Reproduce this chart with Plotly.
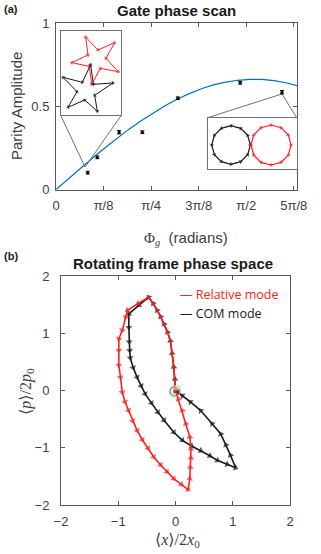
import plotly.graph_objects as go

W, H = 321, 554

# ---------------- data: panel (a) ----------------
phase_x = [0.262, 0.341, 0.521, 0.713, 1.006, 1.521, 1.866]
parity = [0.101, 0.193, 0.344, 0.344, 0.548, 0.641, 0.584]
parity_err = [0.008, 0.008, 0.010, 0.008, 0.008, 0.008, 0.010]

fit_x = [0, 0.1, 0.2, 0.3, 0.4, 0.5, 0.6, 0.7, 0.8, 0.9, 1.0, 1.1, 1.2, 1.3, 1.4,
         1.5, 1.6, 1.7, 1.8, 1.9, 1.99]
fit_y = [0, 0.064, 0.126, 0.188, 0.248, 0.306, 0.361, 0.412, 0.460, 0.503, 0.542,
         0.576, 0.605, 0.628, 0.645, 0.656, 0.662, 0.661, 0.654, 0.641, 0.624]

tick_vals_a = [0, 0.3927, 0.7854, 1.1781, 1.5708, 1.9635]
tick_text_a = ["0", "π/8", "π/4", "3π/8", "π/2", "5π/8"]

zoom_anchor_left = (0.24, 0.135)

# inset 1 (stars), inset coordinates
red_star_x = [83, 120, 170, 144, 181, 127, 101, 94, 41, 90, 83]
red_star_y = [27, 66, 44, 91, 131, 121, 169, 115, 104, 81, 27]
blk_star_x = [15, 73, 98, 106, 165, 110, 118, 80, 30, 57, 15]
blk_star_y = [148, 163, 110, 169, 165, 202, 250, 216, 238, 191, 148]

# inset 2 (circles)
blk_circ_x = [136, 128, 107, 78, 49, 28, 20, 28, 49, 78, 107, 128, 136]
blk_circ_y = [90, 61, 40, 32, 40, 61, 90, 119, 140, 148, 140, 119, 90]
red_circ_x = [138, 146, 168, 198, 228, 250, 258, 250, 228, 198, 168, 146, 138]
red_circ_y = [90, 60, 38, 30, 38, 60, 90, 120, 142, 150, 142, 120, 90]

# ---------------- data: panel (b) ----------------
rel_x = [0, -0.01, -0.03, -0.06, -0.09, -0.14, -0.20, -0.26, -0.32, -0.39, -0.47,
         -0.65, -0.84, -0.87, -0.93, -0.99, -0.99, -0.99, -0.96, -0.93, -0.88, -0.82,
         -0.75, -0.67, -0.58, -0.48, -0.38, -0.26, -0.15, -0.03, 0.10, 0.22, 0.25,
         0.26, 0.27, 0.27, 0.25, 0.18, 0.12, 0.05, 0.0]
rel_y = [0, 0.20, 0.41, 0.65, 0.87, 1.02, 1.16, 1.29, 1.40, 1.52, 1.63,
         1.52, 1.40, 1.28, 1.05, 0.90, 0.70, 0.44, 0.23, -0.03, -0.20, -0.35,
         -0.53, -0.70, -0.86, -1.01, -1.16, -1.30, -1.42, -1.54, -1.64, -1.73, -1.54,
         -1.34, -1.18, -1.02, -0.81, -0.58, -0.35, -0.15, 0.0]

com_x = [0, -0.01, -0.03, -0.06, -0.09, -0.14, -0.20, -0.26, -0.32, -0.39, -0.47,
         -0.64, -0.815, -0.815, -0.81, -0.80, -0.79, -0.74, -0.67, -0.60, -0.53, -0.42,
         -0.31, -0.20, -0.03, 0.12, 0.28, 0.44, 0.60, 0.73, 0.90, 1.05, 0.96, 0.88,
         0.79, 0.64, 0.44, 0.26, 0.12, 0.03, 0.0]
com_y = [0, 0.20, 0.41, 0.65, 0.87, 1.02, 1.16, 1.29, 1.40, 1.52, 1.63,
         1.49, 1.34, 1.10, 0.85, 0.70, 0.57, 0.40, 0.23, 0.08, -0.06, -0.22,
         -0.38, -0.52, -0.73, -0.87, -0.97, -1.05, -1.14, -1.22, -1.29, -1.35, -1.13, -0.95,
         -0.76, -0.58, -0.35, -0.20, -0.09, -0.03, 0.0]
shared_points = 11  # first points common to both modes

ticks_b = [-2, -1, 0, 1, 2]

# ---------------- layout geometry ----------------
def px_x(p):
    return p / W

def px_y(p):
    return 1 - p / H

XA_DOM = [px_x(56), px_x(297)]
YA_DOM = [px_y(189.5), px_y(23)]
XA_RANGE = [0, 1.99]
YA_RANGE = [0, 1]
XB_DOM = [px_x(61), px_x(290)]
YB_DOM = [px_y(505), px_y(276)]
X3_DOM = [px_x(60.7), px_x(121.3)]
Y3_DOM = [px_y(115.3), px_y(30.7)]
X4_DOM = [px_x(207.7), px_x(296.7)]
Y4_DOM = [px_y(169), px_y(117.7)]

def paper_to_xa(f):
    return XA_RANGE[0] + (f - XA_DOM[0]) / (XA_DOM[1] - XA_DOM[0]) * (XA_RANGE[1] - XA_RANGE[0])

def paper_to_ya(f):
    return YA_RANGE[0] + (f - YA_DOM[0]) / (YA_DOM[1] - YA_DOM[0]) * (YA_RANGE[1] - YA_RANGE[0])

AXCOL = "#5a5a5a"
TICKFONT = dict(family="Liberation Sans, Arial, sans-serif", size=13, color="#404040")
GRAY = "#707070"
RED = "#ff2020"
BLK = "#1a1a1a"

fig = go.Figure()

# fit curve
fig.add_trace(go.Scatter(x=fit_x, y=fit_y, mode="lines",
                         line=dict(color="#0072BD", width=1.2),
                         xaxis="x", yaxis="y", showlegend=False, hoverinfo="skip"))
# zoom connector lines
ax_l, ay_l = zoom_anchor_left
ax_r, ay_r = phase_x[6], parity[6] - parity_err[6]
conn_x = [paper_to_xa(X3_DOM[0]), ax_l, paper_to_xa(X3_DOM[1]), None,
          paper_to_xa(X4_DOM[0]), ax_r, paper_to_xa(X4_DOM[1])]
conn_y = [paper_to_ya(Y3_DOM[0]), ay_l, paper_to_ya(Y3_DOM[0]), None,
          paper_to_ya(Y4_DOM[1]), ay_r, paper_to_ya(Y4_DOM[1])]
fig.add_trace(go.Scatter(x=conn_x, y=conn_y, mode="lines",
                         line=dict(color=GRAY, width=1),
                         xaxis="x", yaxis="y", showlegend=False, hoverinfo="skip"))
# data
fig.add_trace(go.Scatter(x=phase_x, y=parity, mode="markers",
                         marker=dict(color="black", size=3),
                         error_y=dict(type="data", array=parity_err, color="black",
                                      thickness=1, width=2),
                         xaxis="x", yaxis="y", showlegend=False))

def arrow_sizes(n, s, skip=1):
    return [0] * skip + [s] * (n - skip)

def path_trace(xs, ys, col, size, lw, xa, ya, name=None, skip=1):
    return go.Scatter(x=xs, y=ys, mode="lines+markers", name=name,
                      line=dict(color=col, width=lw),
                      marker=dict(symbol="triangle-up", size=arrow_sizes(len(xs), size, skip),
                                  angleref="previous", color=col,
                                  line=dict(width=0, color=col)),
                      xaxis=xa, yaxis=ya, showlegend=False, hoverinfo="skip")

# inset 1: stars
fig.add_trace(path_trace(red_star_x, red_star_y, RED, 4, 1, "x3", "y3"))
fig.add_trace(path_trace(blk_star_x, blk_star_y, BLK, 4, 1, "x3", "y3"))
# inset 2: circles
fig.add_trace(path_trace(blk_circ_x, blk_circ_y, BLK, 4, 1.2, "x4", "y4"))
fig.add_trace(path_trace(red_circ_x, red_circ_y, RED, 4, 1.2, "x4", "y4"))

# panel (b)
fig.add_trace(path_trace(com_x, com_y, BLK, 6, 1.6, "x2", "y2", "COM mode"))
fig.add_trace(path_trace(rel_x, rel_y, RED, 6, 1.6, "x2", "y2", "Relative mode",
                         skip=shared_points))
fig.add_trace(go.Scatter(x=[0, -0.02, 0.01], y=[0, -0.02, 0.04], mode="markers",
                         marker=dict(symbol=["circle-open", "circle-open", "circle"],
                                     size=[10, 9, 3],
                                     color=["#EDB120", "#0072BD", "#7E2F8E"],
                                     line=dict(width=1.2)),
                         xaxis="x2", yaxis="y2", showlegend=False, hoverinfo="skip"))

main_axis = dict(showline=True, linecolor=AXCOL, linewidth=1, mirror="ticks",
                 ticks="inside", ticklen=4, tickcolor=AXCOL, tickwidth=1,
                 showgrid=False, zeroline=False, tickfont=TICKFONT, automargin=False)
inset_axis = dict(showline=True, linecolor=GRAY, linewidth=1, mirror=True,
                  ticks="", showticklabels=False, showgrid=False, zeroline=False,
                  automargin=False)

fig.update_layout(
    width=W, height=H, autosize=False,
    margin=dict(l=0, r=0, t=0, b=0),
    paper_bgcolor="white", plot_bgcolor="white",
    showlegend=False,
    xaxis=dict(main_axis, domain=XA_DOM, range=XA_RANGE, anchor="y",
               tickvals=tick_vals_a, ticktext=tick_text_a, ticklabelstandoff=4),
    yaxis=dict(main_axis, domain=YA_DOM, range=YA_RANGE, anchor="x",
               tickvals=[0, 0.5, 1], ticktext=["0", "0.5", "1"], ticklabelstandoff=3),
    xaxis2=dict(main_axis, domain=XB_DOM, range=[-2, 2], anchor="y2",
                tickvals=ticks_b, ticklabelstandoff=4),
    yaxis2=dict(main_axis, domain=YB_DOM, range=[-2, 2], anchor="x2",
                tickvals=ticks_b, ticklabelstandoff=8),
    xaxis3=dict(inset_axis, domain=X3_DOM, range=[8, 190], anchor="y3"),
    yaxis3=dict(inset_axis, domain=Y3_DOM, range=[262, 8], anchor="x3"),
    xaxis4=dict(inset_axis, domain=X4_DOM, range=[8, 275], anchor="y4"),
    yaxis4=dict(inset_axis, domain=Y4_DOM, range=[162, 8], anchor="x4"),
)

BOLD = dict(family="Liberation Sans, Arial, sans-serif", size=15, color="#1a1a1a")
LAB = dict(family="Liberation Sans, Arial, sans-serif", size=15, color="#404040")
SERIF = dict(family="Liberation Serif, DejaVu Serif, serif", size=16, color="#404040")
LEG = dict(family="Open Sans, Noto Sans, sans-serif", size=12.5)

def ann(text, x, y, font, xanchor="center", yanchor="middle", angle=0):
    fig.add_annotation(text=text, x=px_x(x), y=px_y(y), xref="paper", yref="paper",
                       showarrow=False, font=font, xanchor=xanchor, yanchor=yanchor,
                       textangle=angle)

ann("<b>(a)</b>", 2, 9, dict(family="Liberation Sans, Arial", size=11, color="#1a1a1a"), xanchor="left")
ann("<b>(b)</b>", 2, 256, dict(family="Liberation Sans, Arial", size=11, color="#1a1a1a"), xanchor="left")
ann("<b>Gate phase scan</b>", 177, 11, BOLD)
ann("<b>Rotating frame phase space</b>", 173, 263, BOLD)
ann("Parity Amplitude", 16, 106, LAB, angle=-90)
ann('<span style="font-family:Liberation Serif">Φ</span><sub><i><span style="font-family:Liberation Serif">g</span></i></sub>  (radians)',
    186, 238, LAB)
ann("⟨<i>x</i>⟩/2<i>x</i><sub>0</sub>", 178, 540, SERIF)
ann("⟨<i>p</i>⟩/2<i>p</i><sub>0</sub>", 26, 392, SERIF, angle=-90)
ann("— Relative mode", 178, 294, dict(LEG, color=RED), xanchor="left")
ann("— COM mode", 178, 313, dict(LEG, color=BLK), xanchor="left")

fig.write_html("out.html", config={"displayModeBar": False},
               post_script="document.body.style.margin='0';document.body.style.padding='0';")
